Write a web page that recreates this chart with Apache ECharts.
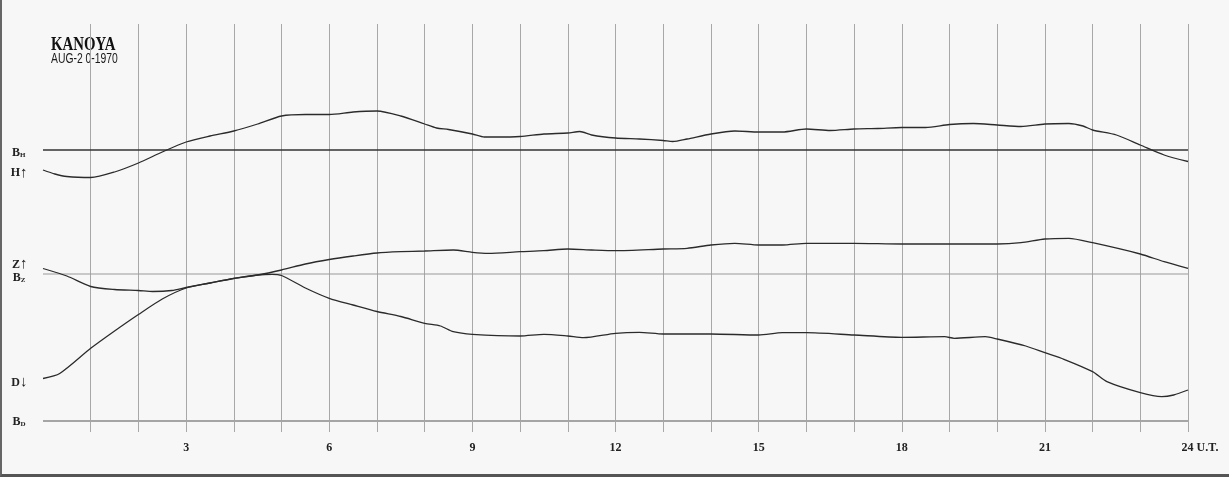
<!DOCTYPE html>
<html>
<head>
<meta charset="utf-8">
<script src="https://cdn.jsdelivr.net/npm/echarts@6/dist/echarts.min.js"></script>
<style>
html,body{margin:0;padding:0;background:#f7f7f7;}
#chart{width:1229px;height:477px;}
#frame{position:absolute;left:0;top:0;width:1227px;height:474px;border-left:2px solid #666;border-bottom:3px solid #555;pointer-events:none;}
</style>
</head>
<body>
<div id="chart"></div>
<div id="frame"></div>
<script>
// Station / date
const station = 'KANOYA';
const dateText = 'AUG-2 0-1970';

// Hour tick labels (U.T.)
const tickHours = [3, 6, 9, 12, 15, 18, 21, 24];

// Baseline levels (chart units, arbitrary deflection scale)
const baseH = 282;
const baseZ = 158;
const baseD = 11;

// H trace
const hoursH = [0,0.25,0.5,1,1.5,2,2.5,3,3.5,4,4.5,5,5.5,6,6.5,7,7.5,8,8.25,8.5,9,9.25,9.5,10,10.5,11,11.25,11.5,12,12.5,13,13.2,13.5,14,14.5,15,15.5,16,16.5,17,17.5,18,18.5,19,19.5,20,20.5,21,21.5,21.8,22,22.5,23,23.5,24];
const valuesH = [262,258,255.5,254.5,260,269,280,290,296,301,308,316,317.5,317.5,320,321,316,308,304,302.5,298,295,295,295.5,298,299,300.5,297,294,293,291.5,290.5,293,298,301,300,300,303,301.5,303,303.5,304.5,304.5,307.5,308.5,307,305.5,308,308.5,306,302,297,287,277,270.5];

// Z trace
const hoursZ = [0,0.5,1,1.5,2,2.3,2.7,3,3.5,4,4.5,5,5.5,6,6.5,7,7.5,8,8.6,9,9.33,10,10.5,11,11.5,12,13,13.5,14,14.5,15,15.5,16,17,18,19,20,20.5,21,21.5,22,23,23.5,24];
const valuesZ = [163.5,156,145.5,142.5,141.5,140.5,141.5,144.5,149,153.5,157,162,168,172.5,176,179,180.3,181,182,179.7,178.7,180.3,181.3,183,182,181.3,183,183.7,187,188.7,187,187,188.7,188.7,188,188,188,189.3,193,193.7,189.3,178,170.3,163.7];

// D trace
const hoursD = [0,0.35,1,1.5,2,2.5,3,3.5,4,4.5,4.8,5,5.5,6,6.5,7,7.5,8,8.33,8.6,9,10,10.5,11,11.33,12,12.5,13,14,15,15.5,16,17,18,18.9,19.1,19.75,20,20.6,21,21.4,22,22.3,23,23.45,23.7,24];
const valuesD = [53.5,58.5,83.7,101,117.5,133,144,149,153.7,157,157.7,156.5,144,133.7,127,120.5,115.5,108.7,106,100.3,97.7,96,97.7,96,94.3,98.7,99.7,98,98,97,99.3,99.3,97,94.7,95.3,93.7,95.3,93,86,79.3,72.7,60.3,50.3,39.3,35.3,37,42];

const serifFont = '"Liberation Serif","DejaVu Serif",serif';

function pairs(hours, values) {
  return hours.map((h, i) => [h, values[i]]);
}

function startLabel(hours, values, labelOpt) {
  return {
    silent: true,
    symbol: 'circle',
    symbolSize: 1,
    itemStyle: { color: 'rgba(0,0,0,0)' },
    data: [{ coord: [hours[0], values[0]] }],
    label: Object.assign({ show: true, position: 'left' }, labelOpt)
  };
}

const richBase = {
  b: { fontFamily: serifFont, fontWeight: 'bold', fontSize: 12, color: '#222' },
  s: { fontFamily: serifFont, fontWeight: 'bold', fontSize: 7, color: '#222', padding: [5, 0, 0, 0] },
  t: { fontFamily: serifFont, fontWeight: 'bold', fontSize: 12, color: '#222' },
  a: { fontFamily: serifFont, fontWeight: 'bold', fontSize: 15, color: '#222' }
};

function baseline(level, labelText, color, width, dy) {
  return {
    type: 'line',
    data: pairs([0, 24], [level, level]),
    symbol: 'none',
    lineStyle: { color: color, width: width },
    silent: true,
    z: 2,
    markPoint: startLabel([0], [level], {
      formatter: labelText, distance: 17, offset: [0, dy], rich: richBase
    })
  };
}

function trace(hours, values, labelText, dy) {
  return {
    type: 'line',
    data: pairs(hours, values),
    symbol: 'none',
    smooth: 0.25,
    lineStyle: { color: '#2b2b2b', width: 1.3 },
    silent: true,
    z: 3,
    markPoint: startLabel(hours, values, {
      formatter: labelText, distance: 15, offset: [0, dy], rich: richBase
    })
  };
}

const chart = echarts.init(document.getElementById('chart'), null, { renderer: 'canvas' });
chart.setOption({
  backgroundColor: '#f7f7f7',
  animation: false,
  graphic: [
    {
      type: 'text', left: 51, top: 36, scaleX: 0.78,
      style: { text: station, font: 'bold 19px "Liberation Serif","DejaVu Serif",serif', fill: '#111' }
    },
    {
      type: 'text', left: 51, top: 52, scaleX: 0.74,
      style: { text: dateText, font: '14px "Liberation Sans","DejaVu Sans",sans-serif', fill: '#1a1a1a' }
    }
  ],
  grid: { left: 43, right: 41, top: 24, bottom: 45 },
  xAxis: {
    type: 'value',
    min: 0,
    max: 24,
    interval: 1,
    axisLine: { show: false },
    axisTick: { show: false },
    splitLine: { show: true, showMinLine: false, lineStyle: { color: '#a8a8a8', width: 1 } },
    axisLabel: {
      margin: 10,
      fontFamily: serifFont,
      fontWeight: 'bold',
      fontSize: 12,
      color: '#222',
      formatter: function (v) {
        if (tickHours.indexOf(v) < 0) return '';
        if (v === 24) return '{p|}{n|' + v + '}{u| U.T.}';
        return String(v);
      },
      rich: {
        p: { width: 24 },
        n: { fontFamily: serifFont, fontWeight: 'bold', fontSize: 12, color: '#222' },
        u: { fontFamily: serifFont, fontWeight: 'bold', fontSize: 12, color: '#222' }
      }
    }
  },
  yAxis: {
    type: 'value',
    min: 0,
    max: 408,
    show: false,
    splitLine: { show: false }
  },
  series: [
    baseline(baseH, '{b|B}{s|H}', '#333', 1.6, 3),
    baseline(baseZ, '{b|B}{s|Z}', '#9a9a9a', 1.2, 4),
    baseline(baseD, '{b|B}{s|D}', '#a5a5a5', 2, 1),
    trace(hoursH, valuesH, '{t|H}{a|\u2191}', 3),
    trace(hoursZ, valuesZ, '{t|Z}{a|\u2191}', -4),
    trace(hoursD, valuesD, '{t|D}{a|\u2193}', 4)
  ]
});
</script>
</body>
</html>
